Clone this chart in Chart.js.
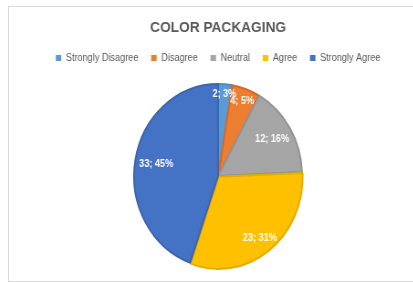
<!DOCTYPE html>
<html>
<head>
<meta charset="utf-8">
<script src="https://cdn.jsdelivr.net/npm/chart.js@4/dist/chart.umd.min.js"></script>
<style>
    html, body { margin: 0; padding: 0; background: #fff; overflow: hidden; }
    #frame {
        position: absolute; left: 8px; top: 6px; width: 500px; height: 274px;
        border-left: 1px solid #d9d9d9; border-top: 1px solid #d9d9d9; border-bottom: 1px solid #d9d9d9;
    }
    #chart {
        position: absolute; left: 0; top: 0; width: 458px; height: 275px;
        transform: scaleX(0.913); transform-origin: 0 0; /* original picture is squeezed sideways */
    }
</style>
</head>
<body>
<div id="frame"><canvas id="chart" width="458" height="275"></canvas></div>
<script>
const categories = ['Strongly Disagree', 'Disagree', 'Neutral', 'Agree', 'Strongly Agree'];
const responses = [2, 4, 12, 23, 33];
const sliceColors = ['#5B9BD5', '#ED7D31', '#A5A5A5', '#FFC000', '#4472C4'];
const edgeColors = ['#4F8BC2', '#D4692A', '#939393', '#E5AC00', '#3C65AE'];
const explodedSlice = [0, 0, 0, 4, 0];

// Etiquetas "valor; %" dentro da fatia, encostadas na borda
const insideEndLabels = {
    id: 'insideEndLabels',
    afterDatasetsDraw(chart) {
        const ctx = chart.ctx;
        const meta = chart.getDatasetMeta(0);
        const total = responses.reduce((a, b) => a + b, 0);
        ctx.save();
        ctx.font = 'bold 10px "Liberation Sans", Arial, sans-serif';
        ctx.fillStyle = '#ffffff';
        ctx.textAlign = 'center';
        ctx.textBaseline = 'middle';
        meta.data.forEach((arc, i) => {
            const { x, y, startAngle, endAngle, outerRadius } = arc.getProps(['x', 'y', 'startAngle', 'endAngle', 'outerRadius'], true);
            const mid = (startAngle + endAngle) / 2;
            const text = responses[i] + '; ' + Math.round(responses[i] / total * 100) + '%';
            const hw = ctx.measureText(text).width / 2;
            const hh = 5;
            const extent = hw * Math.abs(Math.cos(mid)) + hh * Math.abs(Math.sin(mid));
            const d = outerRadius + (arc.options.offset || 0) - 4 - extent;
            ctx.fillText(text, x + Math.cos(mid) * d, y + Math.sin(mid) * d);
        });
        ctx.restore();
    }
};

const config = {
    type: 'pie',
    data: {
        labels: categories,
        datasets: [{
            data: responses,
            backgroundColor: sliceColors,
            borderColor: edgeColors,
            borderWidth: 2,
            offset: explodedSlice
        }]
    },
    options: {
        responsive: false,
        animation: false,
        radius: 92,
        layout: { padding: { top: 0, bottom: 3, left: 0, right: 0 } },
        plugins: {
            title: {
                display: true,
                text: 'COLOR PACKAGING',
                color: '#595959',
                font: { family: '"Liberation Sans", Arial, sans-serif', size: 15, weight: 'bold' },
                padding: { top: 12, bottom: 2 }
            },
            legend: {
                position: 'top',
                labels: {
                    color: '#595959',
                    font: { family: '"Liberation Sans", Arial, sans-serif', size: 10 },
                    boxWidth: 6,
                    boxHeight: 6,
                    padding: 14,
                    generateLabels(chart) {
                        const items = Chart.overrides.pie.plugins.legend.labels.generateLabels(chart);
                        items.forEach(item => { item.lineWidth = 0; item.strokeStyle = item.fillStyle; });
                        return items;
                    }
                }
            },
            tooltip: { enabled: false }
        }
    },
    plugins: [insideEndLabels]
};

new Chart(document.getElementById('chart'), config);
</script>
</body>
</html>
